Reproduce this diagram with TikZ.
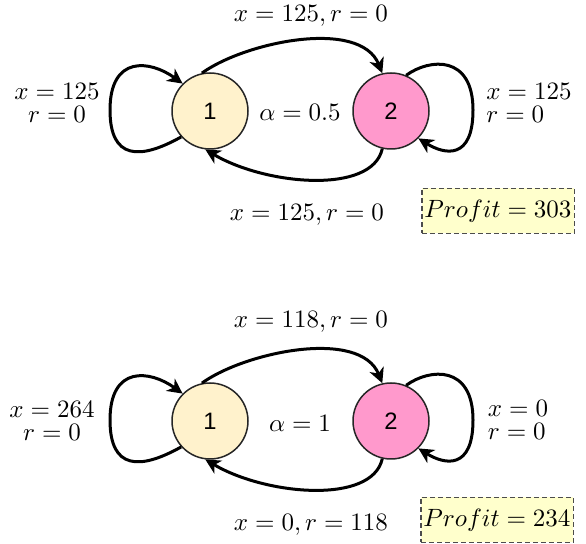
\documentclass[tikz,border=0pt]{standalone}
\usepackage{fontspec}
\newfontfamily\nodefont{Liberation Sans}
\usetikzlibrary{arrows.meta}
\definecolor{cream}{HTML}{FFF2CC}
\definecolor{pinkst}{HTML}{FF99CC}
\definecolor{boxy}{HTML}{FFFFCC}
\begin{document}
\begin{tikzpicture}[x=0.4pt,y=-0.4pt,
  state/.style={circle,draw=black!85,line width=0.6pt,minimum size=30.4pt,inner sep=0pt,font=\nodefont\fontsize{9.5}{10}\selectfont},
  arr/.style={line width=1.2pt,-{Stealth[length=6pt,width=6pt,inset=1.8pt]}},
  lbl/.style={inner sep=0pt,font=\fontsize{10}{9.2}\selectfont},
  profit/.style={draw=black!70,dash pattern=on 2pt off 1.2pt,fill=boxy,line width=0.6pt,minimum width=61pt,minimum height=18pt,inner sep=1pt,font=\fontsize{10}{10}\selectfont}]
\useasboundingbox (0,0) rectangle (586,544);

% ---------- top diagram ----------
\node[state,fill=cream] (a1) at (210,111) {1};
\node[state,fill=pinkst] (a2) at (391,111) {2};
\node[lbl] (atop) at (311,16) {$x=125, r=0$};
\node[lbl] (abot) at (307,215) {$x=125, r=0$};
\node[lbl,align=center] (aleft) at (57,103) {$x=125$\\$r=0$};
\node[lbl,align=left] (aright) at (529,103) {$x=125$\\$r=0$};
\node[lbl] (aalpha) at (300,112) {$\alpha=0.5$};
\node[profit] (aprofit) at (498,211) {$Profit=303$};
\draw[arr] (a1.-138) .. controls (140,160) and (110,160) .. (110,110)
  .. controls (110,55) and (150,60) .. (a1.135);
\draw[arr] (a2.67) .. controls (430,58) and (473,55) .. (473,110)
  .. controls (473,160) and (445,155) .. (a2.-45);
\draw[arr] (a1.102) .. controls (245,42) and (360,18) .. (a2.103);
\draw[arr] (a2.-103) .. controls (372,195) and (265,185) .. (a1.-97);

% ---------- bottom diagram ----------
\begin{scope}[shift={(0,310)}]
\node[state,fill=cream] (b1) at (210,111) {1};
\node[state,fill=pinkst] (b2) at (391,111) {2};
\node[lbl] (btop) at (311,12) {$x=118, r=0$};
\node[lbl] (bbot) at (311,215) {$x=0, r=118$};
\node[lbl,align=center] (bleft) at (52,111) {$x=264$\\$r=0$};
\node[lbl,align=left] (bright) at (518,110) {$x=0$\\$r=0$};
\node[lbl] (balpha) at (300,113) {$\alpha=1$};
\node[profit] (bprofit) at (497,210) {$Profit=234$};
\draw[arr] (b1.-138) .. controls (140,160) and (110,160) .. (110,110)
  .. controls (110,55) and (150,60) .. (b1.135);
\draw[arr] (b2.67) .. controls (430,58) and (473,55) .. (473,110)
  .. controls (473,160) and (445,155) .. (b2.-45);
\draw[arr] (b1.102) .. controls (245,42) and (360,18) .. (b2.103);
\draw[arr] (b2.-103) .. controls (372,195) and (265,185) .. (b1.-97);
\end{scope}
\end{tikzpicture}
\end{document}
